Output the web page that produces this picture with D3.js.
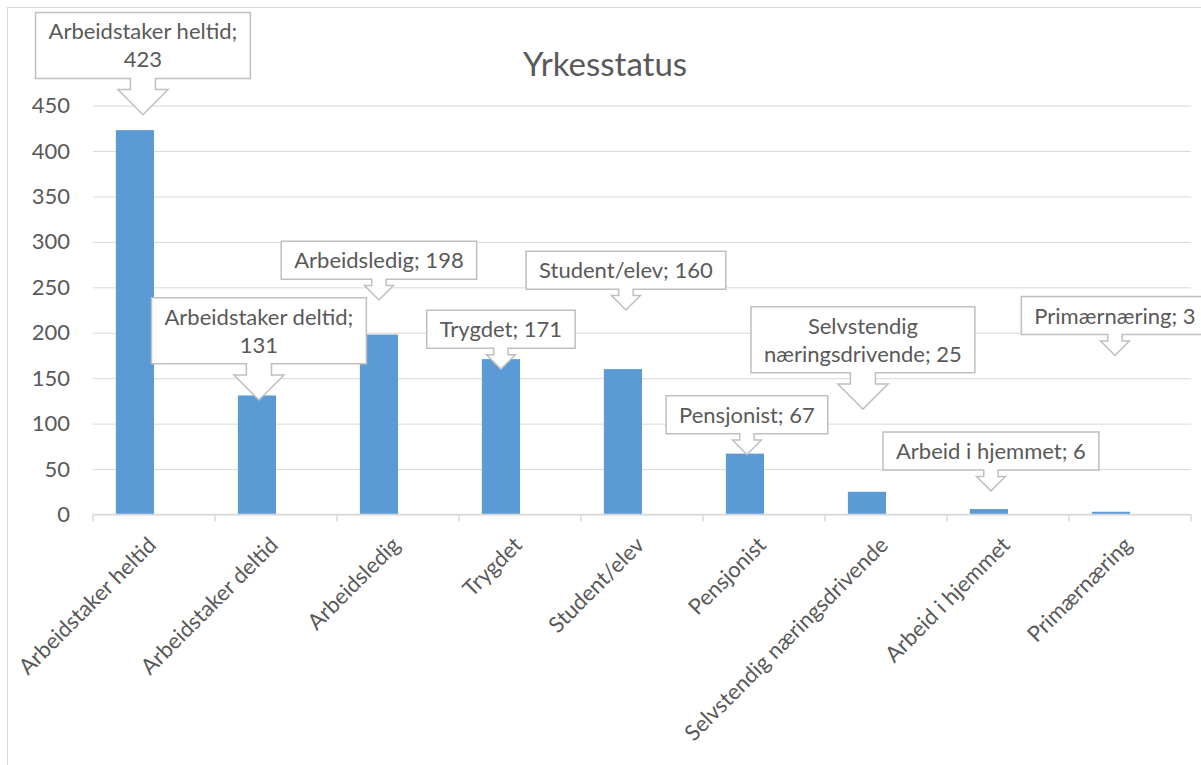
<!DOCTYPE html>
<html>
<head>
<meta charset="utf-8">
<script src="https://cdn.jsdelivr.net/npm/d3@7"></script>
<style>
  body { margin: 0; background: #fff; }
  text { font-family: Lato, "Open Sans", sans-serif; fill: #595959; }
</style>
</head>
<body>
<div id="chart"></div>
<script>
"use strict";

const title = "Yrkesstatus";
const categories = ["Arbeidstaker heltid", "Arbeidstaker deltid", "Arbeidsledig", "Trygdet",
    "Student/elev", "Pensjonist", "Selvstendig næringsdrivende", "Arbeid i hjemmet", "Primærnæring"];
const counts = [423, 131, 198, 171, 160, 67, 25, 6, 3];
const yTicks = [0, 50, 100, 150, 200, 250, 300, 350, 400, 450];

// where each callout arrow points, in axis units (labels were dragged by hand)
const labelAnchor = [440, 126, 236, 160, 225, 66, 116, 26, 175];
// sideways nudge of a few callouts, px
const labelShift = [8, 2, 0, 0, 3, 2, -4, 2, 4];

const plot = {
    width: 1201,
    height: 765,
    left: 93,
    right: 1191,
    top: 105.6,
    bottom: 514.5
}

const svg = d3.select("#chart")
    .append("svg")
    .attr("width", plot.width)
    .attr("height", plot.height);

// outer chart border (runs off the right and bottom edge)
svg.append("rect")
    .attr("x", 7.5)
    .attr("y", 7.5)
    .attr("width", 1220)
    .attr("height", 800)
    .attr("fill", "#fff")
    .attr("stroke", "#d9d9d9");

let xScale = d3.scaleBand()
    .domain(categories)
    .range([plot.left, plot.right]);

// two slots per category, only the first one carries data
let xSub = d3.scaleBand()
    .domain([0, 1])
    .range([0, xScale.bandwidth()])
    .paddingOuter(0.6);

let yScale = d3.scaleLinear()
    .domain([0, 450])
    .range([plot.bottom, plot.top]);

let yAxis = d3.axisLeft(yScale)
    .tickValues(yTicks)
    .tickSizeInner(-(plot.right - plot.left))
    .tickSizeOuter(0)
    .tickPadding(23);

let gy = svg.append("g")
    .attr("transform", "translate(" + plot.left + ",0)")
    .call(yAxis);
gy.select(".domain").remove();
gy.selectAll(".tick line").attr("stroke", "#d9d9d9");
gy.selectAll(".tick text")
    .style("font-family", "Lato")
    .style("font-size", "22px")
    .attr("fill", "#595959");

// title
svg.append("text")
    .attr("x", 605)
    .attr("y", 76)
    .attr("text-anchor", "middle")
    .style("font-size", "33px")
    .text(title);

// bars
svg.selectAll(".bar")
    .data(categories)
    .enter()
    .append("rect")
    .attr("class", "bar")
    .attr("x", (d) => xScale(d) + xSub(0))
    .attr("width", xSub.bandwidth())
    .attr("y", (d, i) => yScale(counts[i]))
    .attr("height", (d, i) => plot.bottom - yScale(counts[i]))
    .attr("fill", "#5b9bd5");

// x axis line + ticks at category boundaries
svg.append("line")
    .attr("x1", plot.left)
    .attr("x2", plot.right)
    .attr("y1", plot.bottom)
    .attr("y2", plot.bottom)
    .attr("stroke", "#d9d9d9")
    .attr("stroke-width", 1.5);

let bounds = categories.map((c) => xScale(c)).concat([plot.right]);
svg.selectAll(".xtick")
    .data(bounds)
    .enter()
    .append("line")
    .attr("x1", (d) => d)
    .attr("x2", (d) => d)
    .attr("y1", plot.bottom)
    .attr("y2", plot.bottom + 7)
    .attr("stroke", "#d9d9d9")
    .attr("stroke-width", 1.5);

svg.selectAll(".xlabel")
    .data(categories)
    .enter()
    .append("text")
    .attr("transform", (d) => "translate(" + (xScale(d) + xScale.bandwidth() / 2 - 2) + "," + 541 + ") rotate(-45)")
    .attr("text-anchor", "end")
    .attr("dy", "0.35em")
    .style("font-size", "22px")
    .text((d) => d);

// callouts
function wrapWords(text, maxWidth, measure) {
    let words = text.split(" ");
    let lines = [];
    let line = words[0];
    for (let i = 1; i < words.length; i++) {
        let test = line + " " + words[i];
        measure.text(test);
        if (measure.node().getComputedTextLength() > maxWidth) {
            lines.push(line);
            line = words[i];
        } else {
            line = test;
        }
    }
    lines.push(line);
    return lines;
}

let measure = svg.append("text").style("font-size", "22px").attr("opacity", 0);

categories.forEach((cat, i) => {
    let lines = wrapWords(cat + "; " + counts[i], 215, measure);
    let widths = lines.map((l) => { measure.text(l); return measure.node().getComputedTextLength(); });
    let w = d3.max(widths) + 26;
    let h = 10 + lines.length * 28;
    let cx = xScale(cat) + xSub(0) + xSub.bandwidth() / 2 + labelShift[i];
    let tipY = yScale(labelAnchor[i]);
    let head = 0.38 * h;
    let shaft = 0.19 * h;
    let arrowLen = 0.55 * h;
    let bottom = tipY - arrowLen;
    let top = bottom - h;
    let left = cx - w / 2;
    let right = cx + w / 2;
    let neck = tipY - head;

    let path = d3.path();
    path.moveTo(left, top);
    path.lineTo(right, top);
    path.lineTo(right, bottom);
    path.lineTo(cx + shaft, bottom);
    path.lineTo(cx + shaft, neck);
    path.lineTo(cx + head, neck);
    path.lineTo(cx, tipY);
    path.lineTo(cx - head, neck);
    path.lineTo(cx - shaft, neck);
    path.lineTo(cx - shaft, bottom);
    path.lineTo(left, bottom);
    path.closePath();

    let g = svg.append("g").attr("class", "callout");
    g.append("path")
        .attr("d", path.toString())
        .attr("fill", "#fff")
        .attr("stroke", "#bfbfbf")
        .attr("stroke-width", 1.5);
    lines.forEach((l, k) => {
        g.append("text")
            .attr("x", cx)
            .attr("y", top + 27 + k * 28)
            .attr("text-anchor", "middle")
            .style("font-size", "22px")
            .text(l);
    });
});
measure.remove();
</script>
</body>
</html>
